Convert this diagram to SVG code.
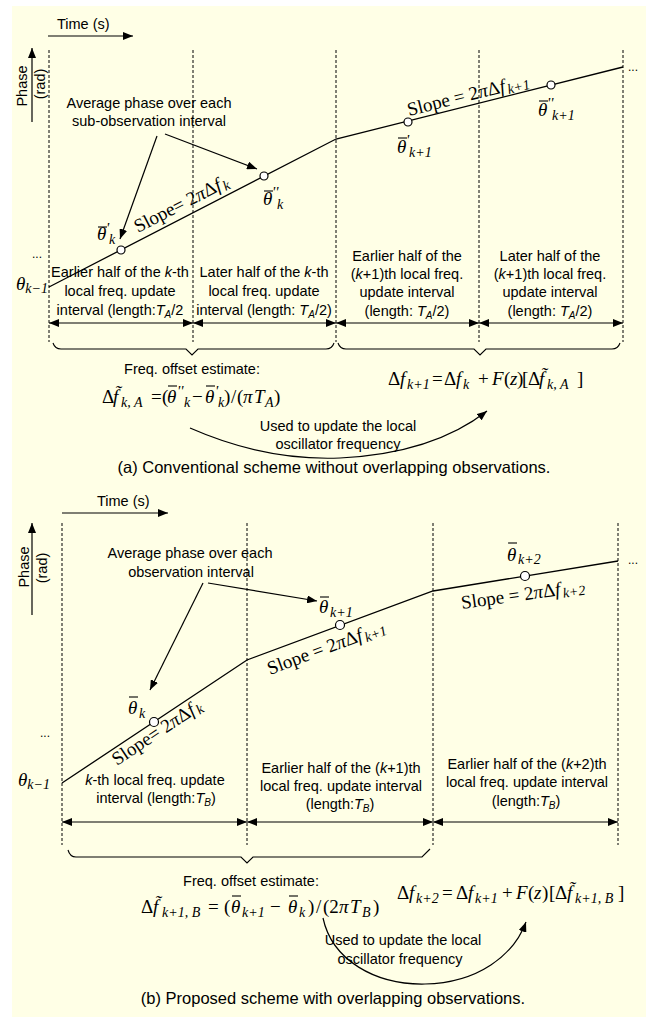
<svg xmlns="http://www.w3.org/2000/svg" width="646" height="1017" viewBox="0 0 646 1017">
<style>
.s{font-family:"Liberation Sans",Arial,sans-serif;font-size:14.5px;fill:#000}
.cap{font-family:"Liberation Sans",Arial,sans-serif;font-size:16.5px;fill:#000}
.m{font-family:"Liberation Serif","Times New Roman",serif;font-size:19px;fill:#000}
.i{font-style:italic}
.sb{font-size:14px}
.pr{font-size:15px}
.dot{font-family:"Liberation Sans",Arial,sans-serif;font-size:12px;fill:#000}
.dash{stroke:#000;stroke-width:1;stroke-dasharray:3 2;fill:none}
.ln{stroke:#000;stroke-width:1.3;fill:none}
.ar{stroke:#000;stroke-width:1.2;fill:none;marker-end:url(#ah)}
.dar{stroke:#000;stroke-width:1.2;fill:none;marker-start:url(#ah);marker-end:url(#ah)}
.pt{fill:#fff;stroke:#000;stroke-width:1.2}
.bar{stroke:#000;stroke-width:1.1}
.br{stroke:#000;stroke-width:1.1;fill:none}
</style>
<defs>
<marker id="ah" viewBox="0 0 10 8" refX="10" refY="4" markerWidth="10" markerHeight="8" markerUnits="userSpaceOnUse" orient="auto-start-reverse"><path d="M0,0 L10,4 L0,8 z" fill="#000"/></marker>
</defs>
<rect x="12" y="6" width="634" height="1011" fill="#FFFFE6"/>

<!-- ===== Panel (a) ===== -->
<g id="a-axes">
<text class="s" x="57" y="29">Time (s)</text>
<text class="s" text-anchor="middle" transform="translate(27,86) rotate(-90)">Phase</text>
<text class="s" text-anchor="middle" transform="translate(45,84) rotate(-90)">(rad)</text>
<text class="dot" x="32" y="258">...</text>
<text class="dot" x="628" y="71">...</text>
</g>
<g id="a-grid">
<line class="dash" x1="49" y1="50" x2="49" y2="342"/>
<line class="dash" x1="193" y1="50" x2="193" y2="342"/>
<line class="dash" x1="336" y1="50" x2="336" y2="342"/>
<line class="dash" x1="479" y1="50" x2="479" y2="342"/>
<line class="dash" x1="623" y1="50" x2="623" y2="342"/>
</g>
<g id="a-phase">
<polyline class="ln" points="49,287 336,139 623,67"/>
<circle class="pt" cx="121" cy="250" r="4"/>
<circle class="pt" cx="264" cy="176" r="4"/>
<circle class="pt" cx="408" cy="122" r="4"/>
<circle class="pt" cx="551" cy="85" r="4"/>
</g>
<g id="a-labels">
<text class="m i" x="16" y="290">θ<tspan class="sb" dy="3">k−1</tspan></text>
<text class="m i" x="97" y="240">θ<tspan class="pr" x="106" y="233">'</tspan><tspan class="sb" x="109" y="244">k</tspan></text>
<line class="bar" x1="98" y1="227" x2="107" y2="227"/>
<text class="m i" x="263" y="205">θ<tspan class="pr" x="272" y="197">''</tspan><tspan class="sb" x="277" y="209">k</tspan></text>
<line class="bar" x1="264" y1="191" x2="273" y2="191"/>
<text class="m i" x="397" y="153">θ<tspan class="pr" x="406" y="145">'</tspan><tspan class="sb" x="409" y="157">k+1</tspan></text>
<line class="bar" x1="398" y1="138" x2="407" y2="138"/>
<text class="m i" x="538" y="116">θ<tspan class="pr" x="547" y="108">''</tspan><tspan class="sb" x="552" y="120">k+1</tspan></text>
<line class="bar" x1="539" y1="101" x2="548" y2="101"/>
<text class="m" transform="translate(138,233) rotate(-27.3)">Slope= 2<tspan class="i">π</tspan>Δ<tspan class="i">f</tspan><tspan class="i sb" dx="2" dy="3">k</tspan></text>
<text class="m" transform="translate(409,116) rotate(-14.1)">Slope = 2<tspan class="i">π</tspan>Δ<tspan class="i">f</tspan><tspan class="i sb" dx="2" dy="3">k+1</tspan></text>
</g>
<g id="a-note">
<text class="s" x="149" y="108" text-anchor="middle">Average phase over each</text>
<text class="s" x="149" y="126" text-anchor="middle">sub-observation interval</text>
</g>
<g id="a-int1" class="s" text-anchor="middle">
<text x="120" y="277">Earlier half of the <tspan class="i">k</tspan>-th</text>
<text x="120" y="296">local freq. update</text>
<text x="120" y="315">interval (length:<tspan class="i">T</tspan><tspan class="i" font-size="10" dy="3">A</tspan><tspan dy="-3">/2</tspan></text>
</g>
<g id="a-int2" class="s" text-anchor="middle">
<text x="264" y="277">Later half of the <tspan class="i">k</tspan>-th</text>
<text x="264" y="296">local freq. update</text>
<text x="264" y="315">interval (length: <tspan class="i">T</tspan><tspan class="i" font-size="10" dy="3">A</tspan><tspan dy="-3">/2)</tspan></text>
</g>
<g id="a-int3" class="s" text-anchor="middle">
<text x="407" y="261">Earlier half of the</text>
<text x="407" y="279">(<tspan class="i">k</tspan>+1)th local freq.</text>
<text x="407" y="297">update interval</text>
<text x="407" y="316">(length: <tspan class="i">T</tspan><tspan class="i" font-size="10" dy="3">A</tspan><tspan dy="-3">/2)</tspan></text>
</g>
<g id="a-int4" class="s" text-anchor="middle">
<text x="550" y="261">Later half of the</text>
<text x="550" y="279">(<tspan class="i">k</tspan>+1)th local freq.</text>
<text x="550" y="297">update interval</text>
<text x="550" y="316">(length: <tspan class="i">T</tspan><tspan class="i" font-size="10" dy="3">A</tspan><tspan dy="-3">/2)</tspan></text>
</g>
<g id="a-est">
<text class="s" x="192" y="374" text-anchor="middle">Freq. offset estimate:</text>
<text class="m"><tspan x="102" y="403">Δ</tspan><tspan x="113" class="i">f&#x303;</tspan><tspan x="121" y="407" class="i sb">k, A</tspan><tspan x="151" y="403">=</tspan><tspan x="162">(</tspan><tspan x="167" class="i">θ</tspan><tspan x="177" y="396" class="i pr">''</tspan><tspan x="184" y="407" class="i sb">k</tspan><tspan x="192" y="403">−</tspan><tspan x="205" class="i">θ</tspan><tspan x="215" y="396" class="i pr">'</tspan><tspan x="218" y="407" class="i sb">k</tspan><tspan x="224" y="403">)</tspan><tspan x="231">/</tspan><tspan x="237">(</tspan><tspan x="243" class="i">π</tspan><tspan x="254" class="i">T</tspan><tspan x="265" y="407" class="i sb">A</tspan><tspan x="274" y="403">)</tspan></text>
<line class="bar" x1="168" y1="386" x2="177" y2="386"/><line class="bar" x1="206" y1="386" x2="215" y2="386"/>
</g>
<g id="a-update">
<text class="m"><tspan x="388" y="385">Δ</tspan><tspan x="400" class="i">f</tspan><tspan x="407" y="389" class="i sb">k+1</tspan><tspan x="432" y="385">=</tspan><tspan x="444">Δ</tspan><tspan x="456" class="i">f</tspan><tspan x="463" y="389" class="i sb">k</tspan><tspan x="478" y="385">+</tspan><tspan x="492" class="i">F</tspan><tspan x="504">(</tspan><tspan x="510" class="i">z</tspan><tspan x="517">)</tspan><tspan x="522">[</tspan><tspan x="528">Δ</tspan><tspan x="539" class="i">f&#x303;</tspan><tspan x="547" y="389" class="i sb">k, A</tspan><tspan x="577" y="385">]</tspan></text>
</g>
<g id="a-used" class="s" text-anchor="middle">
<text x="338" y="431">Used to update the local</text>
<text x="338" y="449">oscillator frequency</text>
</g>
<text id="a-caption" class="cap" x="334" y="473" text-anchor="middle">(a) Conventional scheme without overlapping observations.</text>

<!-- ===== Panel (b) ===== -->
<g id="b-axes">
<text class="s" x="97" y="506">Time (s)</text>
<text class="s" text-anchor="middle" transform="translate(29,567) rotate(-90)">Phase</text>
<text class="s" text-anchor="middle" transform="translate(47,568) rotate(-90)">(rad)</text>
<text class="dot" x="40" y="737">...</text>
<text class="dot" x="628" y="564">...</text>
</g>
<g id="b-grid">
<line class="dash" x1="62" y1="523" x2="62" y2="845"/>
<line class="dash" x1="247" y1="523" x2="247" y2="845"/>
<line class="dash" x1="433" y1="523" x2="433" y2="845"/>
<line class="dash" x1="618" y1="523" x2="618" y2="845"/>
</g>
<g id="b-phase">
<polyline class="ln" points="62,783 247,660 433,591 618,561"/>
<circle class="pt" cx="154" cy="722" r="4.5"/>
<circle class="pt" cx="340" cy="625" r="4.5"/>
<circle class="pt" cx="525" cy="576" r="4.5"/>
</g>
<g id="b-labels">
<text class="m i" x="18" y="786">θ<tspan class="sb" dy="3">k−1</tspan></text>
<text class="m i" x="128" y="714">θ<tspan class="sb" x="139" y="718">k</tspan></text>
<line class="bar" x1="129" y1="697" x2="138" y2="697"/>
<text class="m i" x="319" y="613">θ<tspan class="sb" x="330" y="617">k+1</tspan></text>
<line class="bar" x1="320" y1="597" x2="329" y2="597"/>
<text class="m i" x="507" y="561">θ<tspan class="sb" x="518" y="564">k+2</tspan></text>
<line class="bar" x1="508" y1="543" x2="517" y2="543"/>
<text class="m" transform="translate(117,766) rotate(-33.6)">Slope= 2<tspan class="i">π</tspan>Δ<tspan class="i">f</tspan><tspan class="i sb" dx="2" dy="3">k</tspan></text>
<text class="m" transform="translate(270,675) rotate(-20.4)">Slope = 2<tspan class="i">π</tspan>Δ<tspan class="i">f</tspan><tspan class="i sb" dx="2" dy="3">k+1</tspan></text>
<text class="m" transform="translate(462,609) rotate(-8)">Slope = 2<tspan class="i">π</tspan>Δ<tspan class="i">f</tspan><tspan class="i sb" dx="2" dy="3">k+2</tspan></text>
</g>
<g id="b-note">
<text class="s" x="190" y="558" text-anchor="middle">Average phase over each</text>
<text class="s" x="191" y="577" text-anchor="middle">observation interval</text>
</g>
<g id="b-int1" class="s" text-anchor="middle">
<text x="155" y="785"><tspan class="i">k</tspan>-th local freq. update</text>
<text x="156" y="803">interval (length:<tspan class="i">T</tspan><tspan class="i" font-size="10" dy="3">B</tspan><tspan dy="-3">)</tspan></text>
</g>
<g id="b-int2" class="s" text-anchor="middle">
<text x="341" y="773">Earlier half of the (<tspan class="i">k</tspan>+1)th</text>
<text x="341" y="791">local freq. update interval</text>
<text x="340" y="809">(length:<tspan class="i">T</tspan><tspan class="i" font-size="10" dy="3">B</tspan><tspan dy="-3">)</tspan></text>
</g>
<g id="b-int3" class="s" text-anchor="middle">
<text x="527" y="769">Earlier half of the (<tspan class="i">k</tspan>+2)th</text>
<text x="527" y="787">local freq. update interval</text>
<text x="526" y="806">(length:<tspan class="i">T</tspan><tspan class="i" font-size="10" dy="3">B</tspan><tspan dy="-3">)</tspan></text>
</g>
<g id="b-est">
<text class="s" x="251" y="886" text-anchor="middle">Freq. offset estimate:</text>
<text class="m"><tspan x="141" y="913">Δ</tspan><tspan x="153" class="i">f&#x303;</tspan><tspan x="162" y="917" class="i sb">k+1, B</tspan><tspan x="208" y="913">=</tspan><tspan x="224">(</tspan><tspan x="231" class="i">θ</tspan><tspan x="242" y="917" class="i sb">k+1</tspan><tspan x="270" y="913">−</tspan><tspan x="288" class="i">θ</tspan><tspan x="299" y="917" class="i sb">k</tspan><tspan x="308" y="913">)</tspan><tspan x="316">/</tspan><tspan x="323">(2</tspan><tspan x="339" class="i">π</tspan><tspan x="350" class="i">T</tspan><tspan x="362" y="917" class="i sb">B</tspan><tspan x="373" y="913">)</tspan></text>
<line class="bar" x1="232" y1="896" x2="241" y2="896"/><line class="bar" x1="289" y1="896" x2="298" y2="896"/>
</g>
<g id="b-update">
<text class="m"><tspan x="397" y="899">Δ</tspan><tspan x="409" class="i">f</tspan><tspan x="416" y="903" class="i sb">k+2</tspan><tspan x="442" y="899">=</tspan><tspan x="456">Δ</tspan><tspan x="468" class="i">f</tspan><tspan x="475" y="903" class="i sb">k+1</tspan><tspan x="502" y="899">+</tspan><tspan x="516" class="i">F</tspan><tspan x="528">(</tspan><tspan x="534" class="i">z</tspan><tspan x="542">)</tspan><tspan x="549">[</tspan><tspan x="555">Δ</tspan><tspan x="567" class="i">f&#x303;</tspan><tspan x="575" y="903" class="i sb">k+1, B</tspan><tspan x="618" y="899">]</tspan></text>
</g>
<g id="b-used" class="s" text-anchor="middle">
<text x="403" y="945">Used to update the local</text>
<text x="400" y="964">oscillator frequency</text>
</g>
<text id="b-caption" class="cap" x="333" y="1004" text-anchor="middle">(b) Proposed scheme with overlapping observations.</text>

<!-- ===== Connectors ===== -->
<g id="connectors">
<line class="ar" x1="48" y1="36" x2="133" y2="36"/>
<line class="ar" x1="32" y1="122" x2="32" y2="48"/>
<line class="ar" x1="157" y1="136" x2="120" y2="239"/>
<line class="ar" x1="165" y1="134" x2="257" y2="169"/>
<line class="dar" x1="49" y1="323" x2="193" y2="323"/>
<line class="dar" x1="193" y1="323" x2="336" y2="323"/>
<line class="dar" x1="336" y1="323" x2="479" y2="323"/>
<line class="dar" x1="479" y1="323" x2="623" y2="323"/>
<path class="br" d="M53,343 Q55,349 61,349 L186,349 L192,355 L198,349 L326,349 Q332,349 334,343"/>
<path class="br" d="M338,343 Q340,349 346,349 L474,349 L480,355 L486,349 L612,349 Q618,349 620,343"/>
<path class="ar" d="M190,428 C240,450 290,460 340,458 C400,455 450,440 487,411"/>

<line class="ar" x1="62" y1="513" x2="168" y2="513"/>
<line class="ar" x1="32" y1="615" x2="32" y2="523"/>
<line class="ar" x1="203" y1="583" x2="150" y2="690"/>
<line class="ar" x1="208" y1="583" x2="317" y2="601"/>
<line class="dar" x1="62" y1="822" x2="247" y2="822"/>
<line class="dar" x1="247" y1="822" x2="433" y2="822"/>
<line class="dar" x1="433" y1="822" x2="618" y2="822"/>
<path class="br" d="M68,850 Q70,857 76,857 L241,857 L247,863 L253,857 L422,857 L430,849"/>
<path class="ar" d="M323,918 C332,960 375,985 425,984 C478,983 514,955 526,922"/>
</g>
</svg>
